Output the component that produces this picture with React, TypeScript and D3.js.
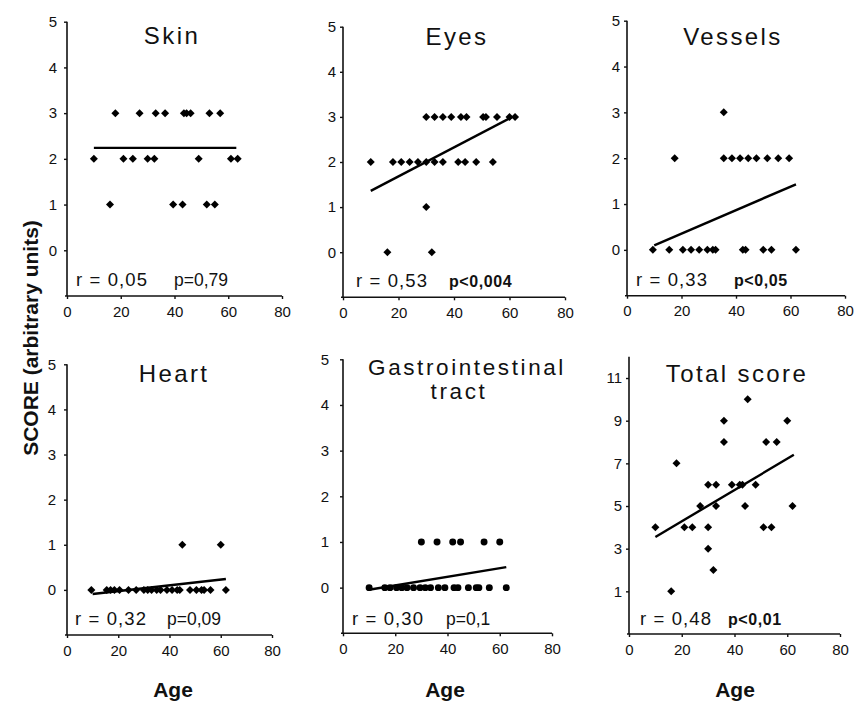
import * as d3 from 'd3';
import React, { useEffect, useRef } from 'react';

// values: age (years) vs. score
const skinAge = [18, 27, 33, 36.5, 43.5, 44.5, 46, 53, 57, 10, 21, 24.5, 30, 32.5, 49, 61, 63.5, 16, 39.5, 43, 52, 55];
const skinScore = [3, 3, 3, 3, 3, 3, 3, 3, 3, 2, 2, 2, 2, 2, 2, 2, 2, 1, 1, 1, 1, 1];

const eyesAge = [30, 33, 36, 39, 42.5, 44.5, 50.5, 51.5, 55.5, 60, 62, 10, 18, 21, 24, 27, 30, 33, 36, 41.5, 44, 48, 54, 30, 16, 32];
const eyesScore = [3, 3, 3, 3, 3, 3, 3, 3, 3, 3, 3, 2, 2, 2, 2, 2, 2, 2, 2, 2, 2, 2, 2, 1, 0, 0];

const vesselsAge = [35.5, 17.5, 35.5, 38.5, 41.5, 44.5, 47.5, 51.5, 55.5, 59.5, 9.5, 15.5, 20.5, 23.5, 26.5, 29.5, 31.5, 32.5, 42.5, 43.5, 50, 53, 62];
const vesselsScore = [3, 2, 2, 2, 2, 2, 2, 2, 2, 2, 0, 0, 0, 0, 0, 0, 0, 0, 0, 0, 0, 0, 0];

const heartAge = [45, 60, 9.5, 15.5, 17, 18.5, 20.5, 24, 27, 30, 31.5, 33, 35, 36.5, 39, 41, 43, 44, 48, 50.5, 52.5, 53.5, 56, 62];
const heartScore = [1, 1, 0, 0, 0, 0, 0, 0, 0, 0, 0, 0, 0, 0, 0, 0, 0, 0, 0, 0, 0, 0, 0, 0];

const giAge = [30, 36, 42, 45, 54, 60, 10, 16, 18, 20.5, 22.5, 24.5, 27, 29.5, 31.5, 33.5, 36.5, 39, 42.5, 44, 48, 51, 52, 56, 62.5];
const giScore = [1, 1, 1, 1, 1, 1, 0, 0, 0, 0, 0, 0, 0, 0, 0, 0, 0, 0, 0, 0, 0, 0, 0, 0, 0];

const totalAge = [10, 16, 18, 21, 24, 27, 30, 30, 30, 32, 33, 33, 36, 36, 39, 42, 43, 44, 45, 48, 51, 52, 54, 56, 60, 62];
const totalScore = [4, 1, 7, 4, 4, 5, 6, 4, 3, 2, 6, 5, 9, 8, 6, 6, 6, 5, 10, 6, 4, 8, 4, 8, 9, 5];

// fitted lines as drawn: [age0, score0, age1, score1]
const skinFit = [10, 2.24, 63, 2.24];
const eyesFit = [10, 1.36, 61, 3.0];
const vesselsFit = [10, 0.1, 62, 1.43];
const heartFit = [10, -0.09, 62, 0.24];
const giFit = [10.5, -0.04, 62.5, 0.45];
const totalFit = [10, 3.55, 62.5, 7.4];

const titles = [['Skin'], ['Eyes'], ['Vessels'], ['Heart'], ['Gastrointestinal', 'tract'], ['Total score']];
const rLabels = ['r = 0,05', 'r = 0,53', 'r = 0,33', 'r = 0,32', 'r = 0,30', 'r = 0,48'];
const pLabels = ['p=0,79', 'p<0,004', 'p<0,05', 'p=0,09', 'p=0,1', 'p<0,01'];
const pBold = [false, true, true, false, false, true];
const xTicks = [0, 20, 40, 60, 80];
const smallYTicks = [0, 1, 2, 3, 4, 5];
const totalYTicks = [1, 3, 5, 7, 9, 11];

const FONT = 'Arial, "Liberation Sans", sans-serif';

interface Panel {
  age: number[];
  score: number[];
  fit: number[];
  x0: number; x1: number; yTop: number; yBottom: number;
  yMax: number; yTicks: number[];
  marker: 'diamond' | 'circle';
  titleX: number; titleY: number;
  textY: number; rX: number; pX: number;
  tickGap: number;
}

const panels: Panel[] = [
  { age: skinAge, score: skinScore, fit: skinFit, x0: 67, x1: 282, yTop: 21.7, yBottom: 296, yMax: 5, yTicks: smallYTicks, marker: 'diamond', titleX: 172, titleY: 44, textY: 286, rX: 76, pX: 174, tickGap: 10 },
  { age: eyesAge, score: eyesScore, fit: eyesFit, x0: 343, x1: 565, yTop: 26.7, yBottom: 297.3, yMax: 5, yTicks: smallYTicks, marker: 'diamond', titleX: 457, titleY: 45, textY: 287, rX: 356, pX: 449, tickGap: 7 },
  { age: vesselsAge, score: vesselsScore, fit: vesselsFit, x0: 627, x1: 845, yTop: 20.7, yBottom: 295.7, yMax: 5, yTicks: smallYTicks, marker: 'diamond', titleX: 733, titleY: 45, textY: 286, rX: 636, pX: 734, tickGap: 7 },
  { age: heartAge, score: heartScore, fit: heartFit, x0: 67, x1: 272, yTop: 364.3, yBottom: 635, yMax: 5, yTicks: smallYTicks, marker: 'diamond', titleX: 174, titleY: 382, textY: 625, rX: 75, pX: 167, tickGap: 11 },
  { age: giAge, score: giScore, fit: giFit, x0: 343, x1: 552, yTop: 359.3, yBottom: 633.3, yMax: 5, yTicks: smallYTicks, marker: 'circle', titleX: 467, titleY: 375, textY: 625, rX: 352, pX: 446, tickGap: 14 },
  { age: totalAge, score: totalScore, fit: totalFit, x0: 629, x1: 840, yTop: 356.7, yBottom: 634, yMax: 12, yTicks: totalYTicks, marker: 'diamond', titleX: 737, titleY: 382, textY: 625, rX: 640, pX: 728, tickGap: 7 },
];

const ageLabelX = [173, 445, 735];

export default function App(): React.JSX.Element {
  const ref = useRef<SVGSVGElement | null>(null);

  useEffect(() => {
    document.body.style.margin = '0';
    if (ref.current === null) return;
    const svg = d3.select(ref.current);
    svg.selectAll('*').remove();

    const diamond = d3.symbol(d3.symbolSquare, 32)();
    const circle = d3.symbol(d3.symbolCircle, 38)();

    panels.forEach((p, i) => {
      const x = d3.scaleLinear().domain([0, 80]).range([p.x0, p.x1]);
      const y = d3.scaleLinear().domain([-1, p.yMax]).range([p.yBottom, p.yTop]);
      const g = svg.append('g');

      const xAxis = g.append('g')
        .attr('transform', `translate(0,${p.yBottom})`)
        .call(d3.axisBottom(x).tickValues(xTicks).tickFormat(d3.format('d')).tickSize(3).tickPadding(7).tickSizeOuter(0));
      const yAxis = g.append('g')
        .attr('transform', `translate(${p.x0},0)`)
        .call(d3.axisLeft(y).tickValues(p.yTicks).tickFormat(d3.format('d')).tickSize(3).tickPadding(p.tickGap - 3).tickSizeOuter(0));

      [xAxis, yAxis].forEach((a) => {
        a.select('.domain').attr('stroke', '#111').attr('stroke-width', 1.6);
        a.selectAll('.tick line').attr('stroke', '#111').attr('stroke-width', 1.4);
        a.selectAll('.tick text').attr('font-family', FONT).attr('font-size', 15).attr('fill', '#111');
      });
      // y-axis line runs from the top tick down to the x axis
      yAxis.select('.domain').attr('d', `M0,${p.yTop}V${p.yBottom}`);
      xAxis.select('.domain').attr('d', `M${p.x0 - 2},0H${p.x1}`);

      g.append('line')
        .attr('x1', x(p.fit[0])).attr('y1', y(p.fit[1]))
        .attr('x2', x(p.fit[2])).attr('y2', y(p.fit[3]))
        .attr('stroke', '#000').attr('stroke-width', 2.4);

      g.selectAll('path.pt')
        .data(p.age.map((a, k) => [a, p.score[k]]))
        .enter()
        .append('path')
        .attr('class', 'pt')
        .attr('d', p.marker === 'diamond' ? diamond : circle)
        .attr('transform', (d) => `translate(${x(d[0])},${y(d[1])})${p.marker === 'diamond' ? ' rotate(45)' : ''}`)
        .attr('fill', '#000');

      titles[i].forEach((line, k) => {
        g.append('text')
          .attr('x', k === 0 ? p.titleX : p.titleX - 8)
          .attr('y', p.titleY + k * 24)
          .attr('text-anchor', 'middle')
          .attr('font-family', FONT).attr('font-size', titles[i].length > 1 ? 22.5 : 24)
          .attr('letter-spacing', titles[i].length > 1 ? 2.6 : 2.4)
          .attr('fill', '#111')
          .text(line);
      });

      g.append('text')
        .attr('x', p.rX).attr('y', p.textY)
        .attr('font-family', FONT).attr('font-size', 18.5)
        .attr('letter-spacing', 1.1)
        .attr('fill', '#111')
        .text(rLabels[i]);

      g.append('text')
        .attr('x', p.pX).attr('y', p.textY)
        .attr('font-family', FONT)
        .attr('font-size', pBold[i] ? 16 : 17.5)
        .attr('font-weight', pBold[i] ? 'bold' : 'normal')
        .attr('letter-spacing', pBold[i] ? 0.6 : 0)
        .attr('fill', '#111')
        .text(pLabels[i]);
    });

    ageLabelX.forEach((cx) => {
      svg.append('text')
        .attr('x', cx).attr('y', 697)
        .attr('text-anchor', 'middle')
        .attr('font-family', FONT).attr('font-size', 21).attr('font-weight', 'bold')
        .attr('fill', '#111')
        .text('Age');
    });

    svg.append('text')
      .attr('transform', 'translate(38,338) rotate(-90)')
      .attr('text-anchor', 'middle')
      .attr('font-family', FONT).attr('font-size', 21).attr('font-weight', 'bold')
      .attr('fill', '#111')
      .text('SCORE (arbitrary units)');
  }, []);

  return <svg ref={ref} width={854} height={705} style={{ display: 'block', background: '#fff' }} />;
}
